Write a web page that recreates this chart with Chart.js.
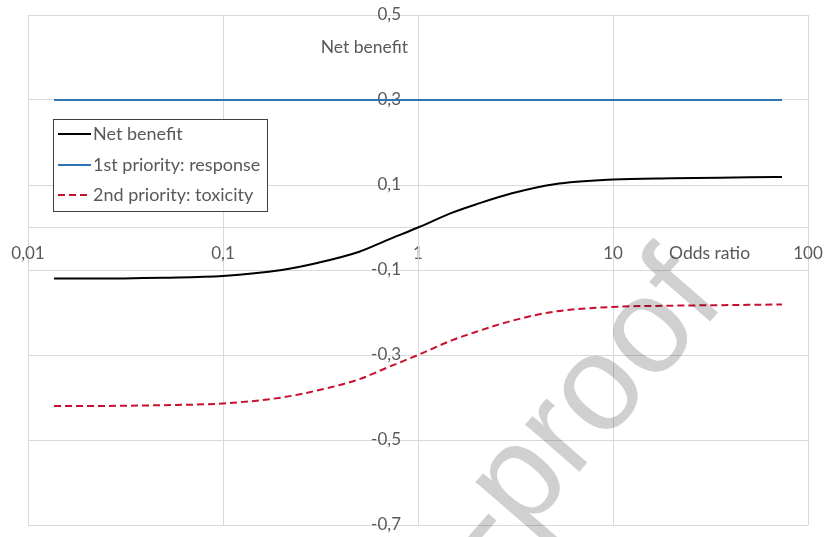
<!DOCTYPE html>
<html>
<head>
<meta charset="utf-8">
<script src="https://cdn.jsdelivr.net/npm/chart.js@4.4.1/dist/chart.umd.min.js"></script>
<style>
  html, body { margin: 0; padding: 0; background: #ffffff; }
  #wrap { width: 826px; height: 537px; position: relative; }
</style>
</head>
<body>
<div id="wrap"><canvas id="chart" width="826" height="537"></canvas></div>
<script>
// Odds ratio values at which the curves are sampled
const oddsRatio = [0.0136, 0.02, 0.05, 0.1, 0.2, 0.3, 0.5, 0.7, 1, 1.5, 2, 3, 5, 10, 20, 50, 73.6];
// Net benefit curve
const netBenefit = [-0.120, -0.120, -0.118, -0.114, -0.100, -0.084, -0.057, -0.029, 0.000, 0.035, 0.055, 0.080, 0.102, 0.113, 0.116, 0.118, 0.119];
// Threshold when response has first priority
const firstPriority = [0.3, 0.3, 0.3, 0.3, 0.3, 0.3, 0.3, 0.3, 0.3, 0.3, 0.3, 0.3, 0.3, 0.3, 0.3, 0.3, 0.3];
// Net benefit when toxicity has second priority
const secondPriority = [-0.420, -0.420, -0.418, -0.414, -0.400, -0.384, -0.357, -0.329, -0.300, -0.265, -0.245, -0.220, -0.198, -0.187, -0.184, -0.182, -0.181];

const xTicks = [0.01, 0.1, 1, 10, 100];
const yTicks = [-0.7, -0.5, -0.3, -0.1, 0.1, 0.3, 0.5];
const seriesNames = ['Net benefit', '1st priority: response', '2nd priority: toxicity'];

const FONT = 'Lato, "Open Sans", "DejaVu Sans", sans-serif';
const TEXT = '#595959';
const GRID = '#d9d9d9';

const toPoints = ys => oddsRatio.map((x, i) => ({ x: x, y: ys[i] }));
const comma = v => String(v).replace('.', ',');

// Legend box and axis captions drawn inside the plot
const overlay = {
  id: 'overlay',
  afterDatasetsDraw(chart) {
    const ctx = chart.ctx;
    ctx.save();
    // axis captions
    ctx.fillStyle = TEXT;
    ctx.font = '17.5px ' + FONT;
    ctx.textBaseline = 'middle';
    ctx.textAlign = 'right';
    ctx.fillText('Net benefit', 408, 47);
    ctx.textAlign = 'left';
    ctx.fillText('Odds ratio', 669, 253);

    // legend
    const box = { x: 53.5, y: 119.5, w: 214, h: 92 };
    ctx.fillStyle = '#ffffff';
    ctx.fillRect(box.x, box.y, box.w, box.h);
    ctx.strokeStyle = '#404040';
    ctx.lineWidth = 1;
    ctx.strokeRect(box.x, box.y, box.w, box.h);
    const rows = [134, 165, 195];
    chart.data.datasets.forEach((ds, i) => {
      const y = rows[i];
      ctx.beginPath();
      ctx.strokeStyle = ds.borderColor;
      ctx.lineWidth = ds.borderWidth;
      ctx.setLineDash(ds.borderDash || []);
      ctx.moveTo(58, y);
      ctx.lineTo(91, y);
      ctx.stroke();
      ctx.setLineDash([]);
      ctx.fillStyle = TEXT;
      ctx.font = '18px ' + FONT;
      ctx.textAlign = 'left';
      ctx.textBaseline = 'middle';
      ctx.fillText(ds.label, 93, y);
    });
    ctx.restore();
  },
  afterDraw(chart) {
    // diagonal watermark
    const ctx = chart.ctx;
    ctx.save();
    ctx.globalCompositeOperation = 'multiply';
    ctx.fillStyle = '#d0d0d0';
    ctx.font = '136px "Liberation Sans", Arial, sans-serif';
    ctx.translate(727, 302);
    ctx.rotate(-49 * Math.PI / 180);
    ctx.textAlign = 'right';
    ctx.textBaseline = 'alphabetic';
    ctx.fillText('Journal Pre-proof', 0, 0);
    ctx.restore();
  }
};

// value-axis labels sit a little to the left of the crossing axis line
const shiftLabels = dx => scale => {
  const compute = scale._computeLabelItems.bind(scale);
  scale._computeLabelItems = area => compute(area).map(item => {
    item.options.translation[0] += dx;
    return item;
  });
};

// the plot area is fixed by the layout padding alone
const noScalePadding = scale => {
  scale.paddingLeft = 0;
  scale.paddingRight = 0;
  scale.paddingTop = 0;
  scale.paddingBottom = 0;
};

new Chart(document.getElementById('chart'), {
  type: 'line',
  data: {
    datasets: [
      {
        label: seriesNames[0],
        data: toPoints(netBenefit),
        borderColor: '#000000',
        borderWidth: 2,
        pointRadius: 0,
        cubicInterpolationMode: 'monotone'
      },
      {
        label: seriesNames[1],
        data: toPoints(firstPriority),
        borderColor: '#2E75B6',
        borderWidth: 2,
        pointRadius: 0
      },
      {
        label: seriesNames[2],
        data: toPoints(secondPriority),
        borderColor: '#C8102E',
        borderWidth: 2,
        borderDash: [7, 4],
        pointRadius: 0,
        cubicInterpolationMode: 'monotone'
      }
    ]
  },
  options: {
    responsive: false,
    animation: false,
    devicePixelRatio: 1,
    layout: { padding: { left: 28, right: 18, top: 15, bottom: 12 } },
    plugins: {
      legend: { display: false },
      tooltip: { enabled: false }
    },
    scales: {
      x: {
        type: 'logarithmic',
        min: 0.01,
        max: 100,
        position: { y: 0 },
        afterBuildTicks: s => { s.ticks = xTicks.map(v => ({ value: v })); },
        afterFit: noScalePadding,
        ticks: {
          color: TEXT,
          font: { family: FONT, size: 17 },
          padding: 16,
          maxRotation: 0,
          callback: v => comma(v)
        },
        grid: { color: GRID, lineWidth: 1, drawTicks: false },
        border: { color: GRID, width: 1 }
      },
      y: {
        type: 'linear',
        min: -0.7,
        max: 0.5,
        position: { x: 1 },
        afterBuildTicks: s => { s.ticks = yTicks.map(v => ({ value: v })); },
        afterFit: noScalePadding,
        afterUpdate: shiftLabels(-17),
        ticks: {
          color: TEXT,
          font: { family: FONT, size: 17 },
          callback: v => comma(v)
        },
        grid: { color: GRID, lineWidth: 1, drawTicks: false },
        border: { color: GRID, width: 1 }
      }
    }
  },
  plugins: [overlay]
});
</script>
</body>
</html>
